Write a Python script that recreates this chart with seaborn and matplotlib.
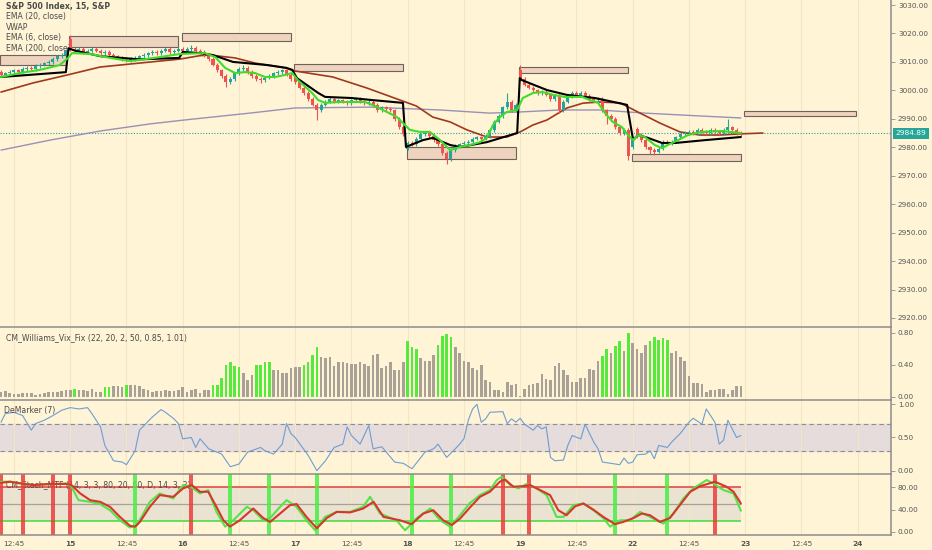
import numpy as np
import seaborn as sns
import matplotlib.pyplot as plt
from matplotlib.patches import Rectangle

# S&P 500, 15 min bars, 12 Jul 12:00 -> 22 Jul close (bar index = x axis)
opens = [3006.5, 3005.5, 3006, 3006.5, 3007, 3006.5, 3007.5, 3008, 3007.5, 3008.5, 3009, 3009.5, 3010, 3011, 3012, 3012.5,
         3018, 3014.5, 3014, 3014.5, 3013.5, 3014, 3014.5, 3014, 3013, 3013.5, 3012.5, 3012, 3011.5, 3011, 3010.5, 3011, 3011.5, 3012, 3012.5, 3013, 3013.5, 3013, 3014, 3014.5, 3013.5, 3014,
         3014.5, 3014, 3014.5, 3015, 3014, 3013.5, 3012.5, 3011, 3009, 3007, 3005, 3003, 3004, 3006, 3007.5, 3008, 3006.5, 3005, 3004, 3003.5, 3004.5, 3005, 3006, 3006.5, 3007, 3005.5,
         3005, 3003, 3001, 2999, 2997, 2995, 2993, 2995, 2996, 2997, 2996, 2996.5, 2996, 2995.5, 2996.5, 2997, 2996, 2995.5, 2996, 2995, 2993, 2994, 2993.5, 2993, 2990, 2987,
         2979.5, 2981.5, 2981, 2983, 2984.5, 2985, 2984, 2982.5, 2981, 2978, 2976, 2979, 2980.5, 2981, 2981.5, 2982, 2983, 2983.5, 2983, 2984, 2986, 2989, 2991, 2994, 2996, 2993,
         3007, 3004, 3002, 3001, 3000, 2999, 2999.5, 2998.5, 2997, 2998, 2993, 2996, 2998, 2999, 2998.5, 2999, 2998, 2997, 2996.5, 2997, 2993, 2991, 2990, 2987, 2985, 2986,
         2980, 2986.5, 2984, 2982.5, 2980, 2979, 2978.5, 2979.5, 2982, 2981.5, 2982, 2983.5, 2984.5, 2985, 2985.5, 2985, 2986, 2985.5, 2985, 2986, 2985.5, 2985, 2986, 2987, 2986, 2985]
closes = [3005.5, 3006, 3006.5, 3007, 3006.5, 3007.5, 3008, 3007.5, 3008.5, 3009, 3009.5, 3010, 3011, 3012, 3012.5, 3014,
          3014.5, 3014, 3014.5, 3013.5, 3014, 3014.5, 3014, 3013, 3013.5, 3012.5, 3012, 3011.5, 3011, 3010.5, 3011, 3011.5, 3012, 3012.5, 3013, 3013.5, 3013, 3014, 3014.5, 3013.5, 3014, 3014.5,
          3014, 3014.5, 3015, 3014, 3013.5, 3012.5, 3011, 3009, 3007, 3005, 3003, 3004, 3006, 3007.5, 3008, 3006.5, 3005, 3004, 3003.5, 3004.5, 3005, 3006, 3006.5, 3007, 3005.5, 3004,
          3003, 3001, 2999, 2997, 2995, 2993, 2995, 2996, 2997, 2996, 2996.5, 2996, 2995.5, 2996.5, 2997, 2996, 2995.5, 2996, 2995, 2993, 2994, 2993.5, 2993, 2990, 2987, 2984.5,
          2981.5, 2981, 2983, 2984.5, 2985, 2984, 2982.5, 2981, 2978, 2976, 2979, 2980.5, 2981, 2981.5, 2982, 2983, 2983.5, 2983, 2984, 2986, 2989, 2991, 2994, 2996, 2993, 2995,
          3004, 3002, 3001, 3000, 2999, 2999.5, 2998.5, 2997, 2998, 2993, 2996, 2998, 2999, 2998.5, 2999, 2998, 2997, 2996.5, 2997, 2993, 2991, 2990, 2987, 2985, 2986, 2977,
          2983.5, 2984, 2982.5, 2980, 2979, 2978.5, 2979.5, 2982, 2981.5, 2982, 2983.5, 2984.5, 2985, 2985.5, 2985, 2986, 2985.5, 2985, 2986, 2985.5, 2985, 2986, 2987, 2986, 2985, 2984.89]
highs = [3007.2, 3006.6, 3007.1, 3007.6, 3007.6, 3008.1, 3008.6, 3008.5, 3009.1, 3009.6, 3010.1, 3010.6, 3011.6, 3012.6, 3013.2, 3014.6,
         3019.5, 3015.2, 3015.1, 3015.2, 3014.6, 3015.3, 3015.1, 3014.6, 3014.1, 3014.2, 3013.1, 3012.6, 3012.1, 3011.6, 3011.6, 3012.1, 3012.6, 3013.1, 3013.6, 3014.1, 3014.3, 3014.6, 3015.4, 3015.1, 3014.6, 3015.2,
         3015.1, 3015.2, 3015.9, 3015.6, 3014.6, 3014.1, 3013.1, 3011.6, 3009.6, 3007.6, 3005.6, 3004.6, 3006.6, 3008.1, 3009.0, 3008.6, 3007.1, 3005.6, 3004.6, 3005.1, 3005.6, 3006.6, 3007.1, 3007.6, 3007.6, 3006.1,
         3005.8, 3003.6, 3001.6, 2999.6, 2997.6, 2995.6, 2995.6, 2996.6, 2997.6, 2997.6, 2997.1, 2997.1, 2996.6, 2997.1, 2997.6, 2997.6, 2996.6, 2996.6, 2996.6, 2995.6, 2994.6, 2994.6, 2994.1, 2993.6, 2990.6, 2987.6,
         2982.1, 2982.3, 2983.6, 2985.1, 2985.6, 2985.6, 2984.6, 2983.1, 2981.6, 2978.6, 2979.6, 2981.1, 2981.6, 2982.1, 2982.6, 2983.6, 2984.1, 2984.1, 2984.6, 2986.6, 2989.6, 2991.6, 2994.6, 2999.0, 2996.6, 2995.6,
         3009.0, 3004.6, 3002.6, 3001.6, 3000.6, 3000.1, 3000.1, 2999.1, 2998.6, 2998.6, 2996.6, 2998.6, 2999.6, 2999.6, 2999.6, 2999.6, 2998.6, 2997.6, 2997.6, 2997.6, 2993.6, 2991.6, 2990.6, 2987.6, 2986.6, 2986.6,
         2984.1, 2987.2, 2985.0, 2983.1, 2980.6, 2979.6, 2980.1, 2982.6, 2982.6, 2982.6, 2984.1, 2985.1, 2985.6, 2986.1, 2986.1, 2986.6, 2986.6, 2986.1, 2986.6, 2986.6, 2986.1, 2986.6, 2990.0, 2987.6, 2986.6, 2985.6]
lows = [3004.9, 3004.9, 3005.4, 3005.9, 3005.9, 3006.0, 3006.9, 3007.0, 3006.9, 3007.9, 3008.4, 3008.9, 3009.4, 3010.4, 3011.4, 3011.9,
        3013.8, 3013.2, 3013.4, 3012.9, 3012.9, 3013.4, 3013.4, 3012.4, 3012.4, 3011.9, 3011.4, 3010.9, 3010.4, 3009.9, 3009.9, 3010.4, 3010.9, 3011.4, 3011.9, 3012.4, 3012.4, 3012.4, 3013.4, 3012.9, 3012.9, 3013.4,
        3013.4, 3013.4, 3013.9, 3013.4, 3012.9, 3011.9, 3010.4, 3008.4, 3006.4, 3004.4, 3001.2, 3002.4, 3003.4, 3005.4, 3006.9, 3005.9, 3004.4, 3003.4, 3002.6, 3002.9, 3003.9, 3004.4, 3005.4, 3005.9, 3004.9, 3003.4,
        3002.4, 3000.4, 2998.4, 2996.4, 2994.4, 2989.6, 2992.4, 2994.4, 2995.4, 2995.4, 2995.4, 2995.4, 2994.9, 2994.9, 2995.9, 2995.4, 2994.9, 2994.9, 2994.4, 2992.4, 2992.4, 2992.9, 2992.4, 2989.4, 2986.4, 2983.9,
        2978.9, 2980.4, 2980.4, 2982.4, 2983.9, 2983.4, 2981.9, 2980.4, 2977.4, 2974.0, 2975.0, 2978.4, 2979.9, 2980.4, 2980.9, 2981.4, 2982.4, 2982.4, 2982.4, 2983.4, 2985.4, 2988.4, 2990.4, 2993.4, 2992.4, 2992.4,
        3003.4, 3001.4, 3000.4, 2999.4, 2998.4, 2998.4, 2997.9, 2996.4, 2996.4, 2992.0, 2992.4, 2995.4, 2997.4, 2997.9, 2997.9, 2997.4, 2996.4, 2995.9, 2995.9, 2992.4, 2988.0, 2989.4, 2986.4, 2984.4, 2984.4, 2975.5,
        2979.4, 2983.4, 2981.9, 2979.4, 2977.5, 2977.4, 2977.9, 2978.9, 2980.9, 2980.9, 2981.4, 2982.9, 2983.9, 2984.4, 2984.4, 2984.4, 2984.9, 2984.4, 2984.4, 2984.9, 2984.4, 2984.4, 2985.4, 2985.4, 2984.4, 2984.0]
last_price = 2984.89

# overlay lines (bar position, price)
ema20_x = [0, 7.4, 15.3, 22.9, 32.1, 41.4, 46.0, 48.3, 54.1, 58.7, 65.6, 68.0, 76.7, 84.6, 92.2, 96.0, 99.8, 103.8, 107.7,
           112.3, 116.9, 120.0, 122.9, 126.2, 130.8, 134.5, 138.4, 143.1, 147.7, 152.3, 156.9, 161.5, 166.2, 170.8, 176.1]
ema20_y = [2999.4, 3002.6, 3005.4, 3008.2, 3009.6, 3011.0, 3012.2, 3012.4, 3011.4, 3009.6, 3007.9, 3006.8, 3004.7, 3000.8, 2996.6, 2994.5, 2990.6, 2988.9, 2986.1,
           2983.6, 2983.6, 2985.4, 2987.8, 2989.6, 2993.8, 2995.5, 2995.9, 2995.6, 2992.0, 2988.5, 2985.4, 2984.3, 2984.3, 2984.7, 2985.0]
ema200_x = [0, 11.3, 22.9, 34.4, 42.5, 57.5, 67.9, 85.3, 101.5, 113.0, 119.9, 129.2, 138.4, 148.8, 161.5, 171]
ema200_y = [2979.0, 2982.5, 2985.7, 2988.2, 2989.6, 2992.0, 2993.8, 2994.1, 2993.1, 2992.0, 2992.4, 2993.1, 2993.1, 2992.0, 2991.0, 2990.3]
vwap_x = [0, 15, 15.6, 17, 23, 32, 41.2, 42, 46.0, 49, 53.6, 61.5, 66, 67.3, 68.4, 73.3, 74.9, 81.1, 85.7, 92.9, 93.6, 97.5, 99.8,
          103.8, 106.1, 112.3, 119.3, 119.9, 120.4, 126.2, 130.8, 137.3, 144.7, 146.1, 147.2, 149.5, 152.8, 155.8, 162.7, 171]
vwap_y = [3004.7, 3006.4, 3014.8, 3014.0, 3012.0, 3010.9, 3011.4, 3013.5, 3013.1, 3012.4, 3010.0, 3008.9, 3007.9, 3007.2, 3004.3, 2999.1, 2997.7, 2997.3, 2996.6, 2995.6, 2980.1, 2982.5, 2983.3,
          2980.8, 2980.1, 2981.8, 2985.0, 3004.3, 3003.6, 3000.1, 2998.4, 2997.3, 2994.9, 2982.5, 2984.3, 2983.3, 2981.5, 2981.5, 2982.5, 2983.6]
ema6_x = [0, 4.4, 9.0, 13.6, 15.5, 16.4, 20.6, 25.2, 29.8, 32.1, 36.7, 41.4, 47.1, 49.5, 51.8, 54.1, 56.4, 58.7, 61.0, 63.3, 65.6, 67.3,
          68.6, 71.9, 73.3, 74.9, 77.9, 81.1, 84.1, 86.4, 88.3, 91.5, 92.9, 94.5, 96.8, 99.1, 101.5, 103.8, 106.1, 108.4, 110.7, 112.3,
          113.7, 115.3, 116.9, 119.3, 120.6, 123.0, 125.3, 127.6, 130.3, 134.3, 136.1, 138.0, 139.6, 141.4, 143.5, 144.9, 146.1, 147.2,
          148.8, 151.1, 152.8, 154.1, 156.5, 158.8, 162.0, 166.6, 171]
ema6_y = [3004.7, 3006.1, 3007.2, 3008.9, 3011.4, 3013.1, 3012.8, 3011.4, 3010.3, 3010.7, 3011.7, 3012.8, 3013.1, 3011.7, 3007.9, 3006.1, 3006.4, 3006.1, 3004.7, 3004.7, 3005.4, 3006.1,
          3003.6, 2999.1, 2996.6, 2995.6, 2995.9, 2995.9, 2995.9, 2994.5, 2993.1, 2990.6, 2988.5, 2986.1, 2985.4, 2985.4, 2982.5, 2979.0, 2980.1, 2980.8, 2981.8, 2983.3,
          2987.8, 2990.6, 2992.4, 2993.1, 2997.3, 2999.1, 2999.4, 2998.4, 2997.7, 2997.7, 2996.6, 2995.6, 2992.0, 2988.9, 2987.1, 2984.3, 2982.5, 2984.3,
          2983.6, 2980.8, 2979.7, 2980.8, 2982.5, 2984.3, 2985.4, 2985.7, 2985.0]

# daily range boxes (first bar, last bar, top, bottom)
box_start = [0, 16, 42, 68, 94, 120, 146, 172]
box_end = [15, 41, 67, 93, 119, 145, 171, 197.5]
box_top = [3012.4, 3019.1, 3020.2, 3009.3, 2980.1, 3008.2, 2977.6, 2992.7]
box_bottom = [3008.9, 3015.2, 3017.3, 3006.8, 2975.9, 3006.1, 2975.2, 2991.0]

# CM_Williams_Vix_Fix histogram
vix = [0.06, 0.07, 0.05, 0.035, 0.04, 0.05, 0.05, 0.05, 0.02, 0.035, 0.05, 0.06, 0.06, 0.06, 0.07, 0.09,
       0.09, 0.10, 0.09, 0.08, 0.075, 0.10, 0.06, 0.06, 0.12, 0.12, 0.13, 0.13, 0.125, 0.15, 0.15, 0.15, 0.13, 0.10, 0.08, 0.06, 0.07, 0.075, 0.08, 0.075, 0.075, 0.08,
       0.12, 0.06, 0.08, 0.10, 0.05, 0.08, 0.08, 0.145, 0.15, 0.23, 0.40, 0.43, 0.38, 0.37, 0.30, 0.21, 0.27, 0.40, 0.40, 0.43, 0.43, 0.34, 0.34, 0.30, 0.30, 0.36,
       0.37, 0.37, 0.40, 0.43, 0.52, 0.625, 0.50, 0.48, 0.49, 0.39, 0.43, 0.43, 0.42, 0.41, 0.41, 0.43, 0.41, 0.38, 0.52, 0.53, 0.36, 0.38, 0.43, 0.33, 0.33, 0.43,
       0.69, 0.625, 0.60, 0.48, 0.45, 0.45, 0.52, 0.65, 0.76, 0.78, 0.75, 0.625, 0.54, 0.45, 0.43, 0.36, 0.34, 0.40, 0.21, 0.19, 0.09, 0.09, 0.06, 0.19, 0.15, 0.16,
       0.015, 0.10, 0.15, 0.16, 0.17, 0.28, 0.22, 0.21, 0.39, 0.42, 0.33, 0.27, 0.18, 0.18, 0.23, 0.24, 0.35, 0.33, 0.44, 0.51, 0.60, 0.55, 0.63, 0.70, 0.575, 0.80,
       0.675, 0.59, 0.54, 0.64, 0.69, 0.74, 0.71, 0.73, 0.71, 0.54, 0.57, 0.50, 0.45, 0.26, 0.175, 0.17, 0.155, 0.06, 0.08, 0.09, 0.10, 0.10, 0.04, 0.09, 0.14, 0.13]
vix_green = [17, 24, 25, 29, 49, 50, 51, 52, 53, 54, 55, 59, 60, 61, 62, 70, 71, 72, 73, 94, 95, 96, 101, 102, 103, 104,
             139, 140, 142, 143, 145, 150, 151, 152, 153, 154]

# DeMarker (7)
dem_x = [0, 1, 3, 5, 7, 8, 10, 12, 14, 16, 18, 20, 21, 23, 24, 26, 28, 29, 31, 32, 35, 37, 38, 40, 41, 42, 44, 45, 46, 48,
         51, 53, 55, 57, 60, 61, 63, 65, 66, 67, 68, 71, 73, 75, 77, 79, 80, 81, 83, 85, 86, 88, 91, 93, 95, 98, 100, 101, 103, 105,
         106, 107, 108, 109, 110, 111, 112, 113, 116, 117, 118, 119, 120, 121, 123, 124, 125, 126, 127, 128, 130, 131, 132, 134, 135,
         137, 138, 139, 141, 143, 144, 145, 146, 147, 149, 150, 151, 152, 154, 155, 157, 159, 160, 162, 163, 165, 166, 167, 168, 170, 171]
dem_y = [0.73, 0.86, 0.88, 0.83, 0.61, 0.71, 0.76, 0.83, 0.91, 0.95, 0.93, 0.95, 0.86, 0.66, 0.38, 0.15, 0.13, 0.09, 0.30, 0.61, 0.81, 0.92, 0.88, 0.78, 0.71, 0.48, 0.50, 0.35, 0.48, 0.33,
         0.25, 0.06, 0.10, 0.28, 0.35, 0.30, 0.25, 0.40, 0.71, 0.56, 0.50, 0.23, 0.0, 0.15, 0.35, 0.40, 0.66, 0.53, 0.40, 0.68, 0.33, 0.36, 0.13, 0.11, 0.03, 0.28, 0.33, 0.40, 0.20, 0.33,
         0.40, 0.48, 0.76, 0.93, 1.0, 0.73, 0.78, 0.88, 0.89, 0.71, 0.78, 0.73, 0.79, 0.70, 0.61, 0.68, 0.63, 0.66, 0.20, 0.15, 0.16, 0.38, 0.53, 0.48, 0.70,
         0.43, 0.33, 0.13, 0.11, 0.09, 0.19, 0.11, 0.13, 0.24, 0.25, 0.30, 0.18, 0.38, 0.35, 0.43, 0.56, 0.73, 0.79, 0.70, 0.93, 0.73, 0.40, 0.46, 0.76, 0.50, 0.53]

# CM_Stoch_MTF: %K (green), %D (red), signal columns
k_x = [0, 2.1, 7.5, 15.2, 16.3, 17.9, 20.6, 22.9, 25.2, 27.5, 29.8, 31.4, 32.9, 34.4, 36.7, 39.8, 42.1, 43.7, 46.0, 47.9, 49.8, 51.8,
       53.7, 56.8, 58.3, 60.6, 62.2, 64.5, 66.0, 68.3, 70.6, 72.6, 74.9, 77.6, 80.7, 83.7, 85.3, 87.6, 91.4, 93.4, 96.1, 99.2, 101.5,
       103.8, 106.1, 108.4, 110.7, 113.0, 114.6, 115.7, 117.7, 119.6, 121.5, 123.8, 126.1, 128.4, 130.0, 132.3, 134.6, 136.9, 139.2,
       140.8, 143.1, 145.4, 147.7, 150.0, 153.1, 155.4, 157.7, 160.0, 163.1, 164.6, 167.0, 169.3, 171]
k_y = [90, 90, 84, 87, 81, 57, 54, 50, 39, 21, 8, 12, 33, 54, 69, 60, 84, 82, 69, 75, 36, 9.5,
       21, 45, 39, 21, 25, 45, 57, 45, 21, 3, 27, 36, 36, 45, 63, 33, 21, 3, 25, 42, 21,
       9.5, 30, 52, 66, 75, 93, 99, 84, 78, 86, 78, 66, 27, 27, 48, 51, 39, 25,
       9.5, 21, 21, 36, 27, 15, 33, 60, 78, 93, 87, 75, 69, 38]
d_x = [0, 2.1, 4.4, 7.5, 11.3, 15.2, 16.3, 18.3, 20.6, 22.9, 25.2, 27.5, 29.8, 31.0, 32.1, 34.4, 36.7, 39.8, 42.1, 44.1, 46.0, 47.9,
       49.8, 51.4, 52.9, 55.2, 58.3, 60.6, 62.2, 64.5, 66.8, 68.3, 70.6, 73.0, 75.3, 77.6, 80.7, 83.7, 86.1, 88.4, 92.2, 94.9, 97.6,
       99.9, 102.2, 104.2, 106.1, 108.4, 110.7, 113.0, 115.3, 116.5, 118.4, 120.7, 122.3, 124.6, 126.9, 128.8, 130.7, 132.7, 134.6,
       136.9, 139.2, 141.9, 143.8, 146.2, 148.1, 150.0, 152.3, 154.6, 156.9, 159.3, 161.6, 165.0, 167.7, 169.3, 171]
d_y = [88, 90, 87, 84, 86, 86, 84, 69, 57, 54, 45, 27, 11, 9.5, 18, 45, 66, 63, 78, 84, 72, 72,
       45, 21, 9.5, 21, 42, 25, 18, 33, 48, 50, 27, 6.6, 25, 36, 35, 42, 54, 27, 21, 14, 33,
       39, 21, 12.5, 24, 44, 63, 72, 90, 94, 81, 82, 84, 75, 66, 39, 30, 46, 51,
       40, 27, 14, 18, 25, 33, 30, 18, 25, 48, 72, 82, 90, 81, 72, 51]
stoch_red_bars = [0, 5, 12, 16, 44, 116, 122, 165]
stoch_green_bars = [31, 53, 62, 73, 95, 104, 142, 154]

tick_pos = [3, 16, 29, 42, 55, 68, 81, 94, 107, 120, 133, 146, 159, 172, 185, 198]
tick_lab = ['12:45', '15', '12:45', '16', '12:45', '17', '12:45', '18', '12:45', '19', '12:45', '22', '12:45', '23', '12:45', '24']

assert len(opens) == len(closes) == len(highs) == len(lows) == len(vix) == 172

sns.set_theme(style="white")
plt.rcParams['font.family'] = ['DejaVu Sans']

BG = '#FFF4D6'
AXC = '#8C8C8C'
TXT = '#555555'

fig = plt.figure(figsize=(9.32, 5.5), dpi=100, facecolor=BG)
W = 891 / 932
ax = fig.add_axes([0, 1 - 327 / 550, W, 327 / 550])
ax_vix = fig.add_axes([0, 1 - 400 / 550, W, 73 / 550], sharex=ax)
ax_dem = fig.add_axes([0, 1 - 474 / 550, W, 74 / 550], sharex=ax)
ax_st = fig.add_axes([0, 1 - 535 / 550, W, 61 / 550], sharex=ax)
panels = [ax, ax_vix, ax_dem, ax_st]

for a in panels:
    a.set_facecolor(BG)
    a.spines['left'].set_visible(False)
    a.spines['bottom'].set_visible(a is ax_st)
    a.spines['top'].set_visible(a is not ax)
    for s in ['top', 'right', 'bottom']:
        a.spines[s].set_color(AXC)
        a.spines[s].set_linewidth(1.1)
    a.yaxis.tick_right()
    a.tick_params(axis='y', direction='out', length=3, width=0.6, colors=AXC,
                  labelcolor=TXT, labelsize=5.2, pad=2)
    a.set_xticks(tick_pos)
    a.grid(axis='x', color='#F2E6C4', lw=0.8)
    a.grid(axis='y', visible=False)
    if a is not ax_st:
        a.tick_params(axis='x', labelbottom=False, length=0)

ax.set_xlim(-0.23, 205.7)
bars = np.arange(len(closes))
o = np.array(opens); c = np.array(closes); h = np.array(highs); l = np.array(lows)

# ---- main price panel ----
ax.set_ylim(2916.82, 3031.76)
ax.set_yticks(np.arange(2920, 3031, 10))
ax.yaxis.set_major_formatter(plt.FormatStrFormatter('%.2f'))

legend_lines = ['S&P 500 Index, 15, S&P', 'EMA (20, close)', 'VWAP', 'EMA (6, close)', 'EMA (200, close)']
for k, txt in enumerate(legend_lines):
    ax.text(6 / 891, 1 - (6 + 10.5 * k) / 327, txt, transform=ax.transAxes, fontsize=5.6,
            color='#4A4A4A', weight='bold' if k == 0 else 'normal', va='center', ha='left', zorder=1.5)

for x0, x1, top, bot in zip(box_start, box_end, box_top, box_bottom):
    ax.add_patch(Rectangle((x0 - 0.2, bot), x1 - x0 + 0.2, top - bot, facecolor='#EED3BE',
                           edgecolor='#6E6259', lw=0.8, zorder=2))

ax.axhline(last_price, color='#26A69A', ls=(0, (1, 1.5)), lw=0.8, zorder=1)

sns.lineplot(x=ema200_x, y=ema200_y, ax=ax, color='#9A90B6', lw=1.0, zorder=3)
sns.lineplot(x=ema20_x, y=ema20_y, ax=ax, color='#A0381E', lw=1.2, zorder=3)

up = c >= o
col = np.where(up, '#26A69A', '#EF5350')
ax.vlines(bars, l, h, colors=col, lw=0.8, zorder=4)
ax.bar(bars, np.maximum(np.abs(c - o), 0.25), bottom=np.minimum(o, c), width=0.7,
       color=col, linewidth=0, zorder=4)

sns.lineplot(x=vwap_x, y=vwap_y, ax=ax, color='black', lw=1.5, zorder=5)
sns.lineplot(x=ema6_x, y=ema6_y, ax=ax, color='#3FDD2A', lw=1.5, zorder=6)

ax.annotate(f'{last_price:.2f}', xy=(1.0, last_price), xycoords=('axes fraction', 'data'),
            xytext=(3, 0), textcoords='offset points', ha='left', va='center',
            fontsize=5.4, color='white',
            bbox=dict(boxstyle='square,pad=0.35', fc='#26A69A', ec='none'), annotation_clip=False)

# ---- Vix Fix ----
ax_vix.set_ylim(-0.041, 0.871)
ax_vix.set_yticks([0, 0.4, 0.8])
ax_vix.yaxis.set_major_formatter(plt.FormatStrFormatter('%.2f'))
gset = set(vix_green)
vcol = ['#55EA3C' if i in gset else '#A9A196' for i in bars]
ax_vix.bar(bars, vix, width=0.6, color=vcol, linewidth=0, zorder=3)
ax_vix.text(6 / 891, 1 - 11 / 73, 'CM_Williams_Vix_Fix (22, 20, 2, 50, 0.85, 1.01)', fontsize=5.6,
            color='#4A4A4A', va='center', ha='left', transform=ax_vix.transAxes, zorder=4)

# ---- DeMarker ----
ax_dem.set_ylim(-0.05, 1.065)
ax_dem.set_yticks([0, 0.5, 1.0])
ax_dem.yaxis.set_major_formatter(plt.FormatStrFormatter('%.2f'))
ax_dem.axhspan(0.3, 0.7, color='#E5DCDB', zorder=0.5)
for lev in (0.3, 0.7):
    ax_dem.axhline(lev, color='#8E8E8E', lw=0.8, ls=(0, (4, 3)), zorder=1)
sns.lineplot(x=dem_x, y=dem_y, ax=ax_dem, color='#6E9ED0', lw=0.8, zorder=3)
ax_dem.text(4 / 891, 1 - 10 / 74, 'DeMarker (7)', fontsize=5.6, color='#4A4A4A',
            va='center', ha='left', transform=ax_dem.transAxes, zorder=4)

# ---- Stoch MTF ----
ax_st.set_ylim(-5.4, 103.8)
ax_st.set_yticks([0, 40, 80])
ax_st.yaxis.set_major_formatter(plt.FormatStrFormatter('%.2f'))
ax_st.fill_between([-0.2, 171], 20, 80, color='#EAE3D1', zorder=0.5, linewidth=0)
ax_st.hlines(80, -0.2, 171, color='#E0403A', lw=1.1, zorder=1)
ax_st.hlines(50, -0.2, 171, color='#A7A197', lw=0.9, zorder=1)
ax_st.hlines(20, -0.2, 171, color='#3FDD3A', lw=1.1, zorder=1)
ax_st.text(6 / 891, 1 - 11 / 61, 'CM_Stoch_MTF (14, 3, 3, 80, 20, 60, D, 14, 3, 3)', fontsize=5.6,
           color='#4A4A4A', va='center', ha='left', transform=ax_st.transAxes, zorder=1.5)
ax_st.bar(stoch_red_bars, 109.2, bottom=-5.4, width=0.9, color='#EA3F3C', alpha=0.85, linewidth=0, zorder=2)
ax_st.bar(stoch_green_bars, 109.2, bottom=-5.4, width=0.9, color='#4BEE45', alpha=0.85, linewidth=0, zorder=2)
sns.lineplot(x=k_x, y=k_y, ax=ax_st, color='#55E34A', lw=1.5, zorder=3)
sns.lineplot(x=d_x, y=d_y, ax=ax_st, color='#D8352C', lw=1.5, zorder=4)

ax_st.set_xticklabels(tick_lab)
ax_st.tick_params(axis='x', length=2, width=0.6, colors=AXC, labelcolor=TXT, labelsize=5.4, pad=2)
for t in ax_st.get_xticklabels():
    if ':' not in t.get_text():
        t.set_fontweight('bold')

for a in panels:
    a.set_xlabel('')
    a.set_ylabel('')

fig.savefig('out.png', dpi=100, facecolor=BG)
